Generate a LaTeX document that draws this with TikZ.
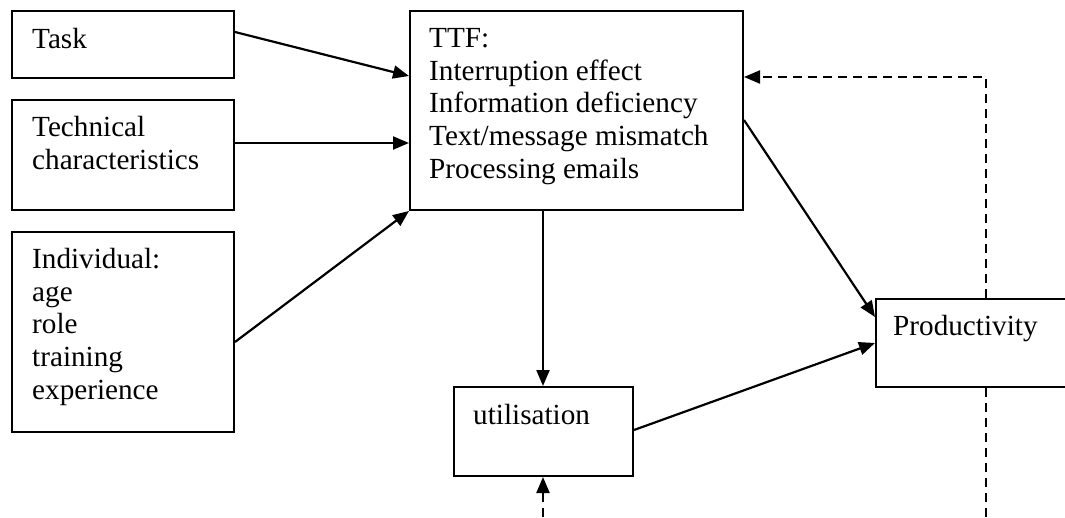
\documentclass[tikz,border=0pt]{standalone}
\usepackage{fontspec}
\setmainfont{Liberation Serif}
\usetikzlibrary{arrows.meta,calc}
\begin{document}
\begin{tikzpicture}[x=1pt,y=-1pt,
  box/.style={draw=black,line width=2pt,fill=white,rectangle,inner sep=0pt,anchor=north west},
  txt/.style={anchor=north west,inner sep=0pt,align=left,font=\fontsize{29.2}{32.7}\selectfont},
  arr/.style={line width=2.2pt,-{Triangle[length=16pt,width=13pt]}},
  darr/.style={line width=2.2pt,dash pattern=on 9pt off 6pt,-{Triangle[length=16pt,width=13pt]}},
  dline/.style={line width=2.2pt,dash pattern=on 9pt off 6pt}]
\clip (0,0) rectangle (1065,517);
\fill[white] (0,0) rectangle (1065,517);
\coordinate (pb) at (986,517);
\coordinate (pc) at (986,77);
\coordinate (ub) at (543,517);
% boxes
\node[box,minimum width=222pt,minimum height=67pt] (task) at (11,10) {};
\node[box,minimum width=222pt,minimum height=110pt] (tech) at (11,99) {};
\node[box,minimum width=222pt,minimum height=200pt] (ind) at (11,231) {};
\node[box,minimum width=333pt,minimum height=199pt] (ttf) at (409,10) {};
\node[box,minimum width=179pt,minimum height=89pt] (util) at (453,386) {};
\node[box,minimum width=220pt,minimum height=88pt] (prod) at (875,298) {};
% texts
\node[txt] (ttask) at (32,28) {Task};
\node[txt] (ttech) at (32,116) {Technical\\characteristics};
\node[txt] (tind) at (32,248) {Individual:\\age\\role\\training\\experience};
\node[txt] (tttf) at (429,28) {TTF:\\Interruption effect\\Information deficiency\\Text/message mismatch\\Processing emails};
\node[txt] (tutil) at (473,404) {utilisation};
\node[txt] (tprod) at (893,315) {Productivity};
% connectors
\draw[arr] ($(task.north east)+(0,22)$) -- ($(ttf.north west)+(0,66)$);
\draw[arr] ($(tech.north east)+(0,44)$) -- ($(ttf.north west)+(0,133)$);
\draw[arr] ($(ind.north east)+(0,111)$) -- (ttf.south west);
\draw[arr] (ttf.south -| ub) -- (util.north -| ub);
\draw[arr] ($(ttf.north east)+(0,110)$) -- ($(prod.north west)+(0,19)$);
\draw[arr] ($(util.north east)+(0,44)$) -- ($(prod.north west)+(0,45)$);
\draw[darr] (ub) -- (util.south -| ub);
\draw[dline] (pb) -- (prod.south -| pb);
\draw[darr] (prod.north -| pc) -- (pc) -- (pc -| ttf.east);
\end{tikzpicture}
\end{document}
